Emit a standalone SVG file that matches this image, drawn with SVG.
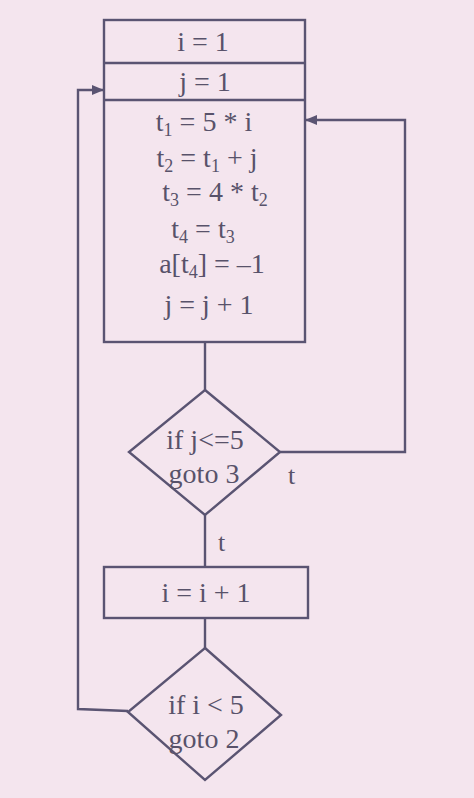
<svg xmlns="http://www.w3.org/2000/svg" width="474" height="798" viewBox="0 0 474 798">
<style>
.ln{fill:none;stroke:#5a5472;stroke-width:2.4}
.tx{font-family:"Liberation Serif","Times New Roman",serif;font-size:28px;fill:#58526a;text-anchor:middle}
.lb{font-family:"Liberation Serif","Times New Roman",serif;font-size:26px;fill:#58526a}
.sb{font-size:18px}
</style>
<defs>
<marker id="ah" viewBox="0 0 12 10" refX="11" refY="5" markerWidth="12" markerHeight="10" markerUnits="userSpaceOnUse" orient="auto">
<path d="M0,0 L12,5 L0,10 z" fill="#5a5472"/>
</marker>
</defs>
<rect width="474" height="798" fill="#f4e5ee"/>
<g id="connectors">
<line class="ln" x1="205" y1="342" x2="205" y2="390"/>
<polyline class="ln" points="280,452 405,452 405,120 306,120" marker-end="url(#ah)"/>
<line class="ln" x1="205" y1="515" x2="205" y2="567"/>
<line class="ln" x1="205" y1="618" x2="205" y2="648"/>
<polyline class="ln" points="128,711 78,709 78,90 103,90" marker-end="url(#ah)"/>
<text class="lb" x="288" y="484">t</text>
<text class="lb" x="218" y="551">t</text>
</g>
<g id="block1">
<rect class="ln" x="104" y="20" width="201" height="322"/>
<line class="ln" x1="104" y1="63" x2="305" y2="63"/>
<line class="ln" x1="104" y1="100" x2="305" y2="100"/>
</g>
<g id="i1"><text class="tx" x="203" y="51">i = 1</text></g>
<g id="j1"><text class="tx" x="205" y="91">j = 1</text></g>
<g id="body">
<text class="tx" x="204" y="131">t<tspan class="sb" dy="5">1</tspan><tspan dy="-5"> = 5 * i</tspan></text>
<text class="tx" x="207" y="167">t<tspan class="sb" dy="5">2</tspan><tspan dy="-5"> = t</tspan><tspan class="sb" dy="5">1</tspan><tspan dy="-5"> + j</tspan></text>
<text class="tx" x="215" y="201">t<tspan class="sb" dy="5">3</tspan><tspan dy="-5"> = 4 * t</tspan><tspan class="sb" dy="5">2</tspan></text>
<text class="tx" x="203" y="238">t<tspan class="sb" dy="5">4</tspan><tspan dy="-5"> = t</tspan><tspan class="sb" dy="5">3</tspan></text>
<text class="tx" x="212" y="273">a[t<tspan class="sb" dy="5">4</tspan><tspan dy="-5">] = –1</tspan></text>
<text class="tx" x="209" y="314">j = j + 1</text>
</g>
<g id="cond1">
<polygon class="ln" points="205,390 280,452 205,515 129,452"/>
<text class="tx" x="205" y="449">if j&lt;=5</text>
<text class="tx" x="204" y="483">goto 3</text>
</g>
<g id="inc">
<rect class="ln" x="104" y="567" width="204" height="51"/>
<text class="tx" x="206" y="602">i = i + 1</text>
</g>
<g id="cond2">
<polygon class="ln" points="205,648 281,715 205,780 128,712"/>
<text class="tx" x="206" y="714">if i &lt; 5</text>
<text class="tx" x="204" y="748">goto 2</text>
</g>
</svg>
